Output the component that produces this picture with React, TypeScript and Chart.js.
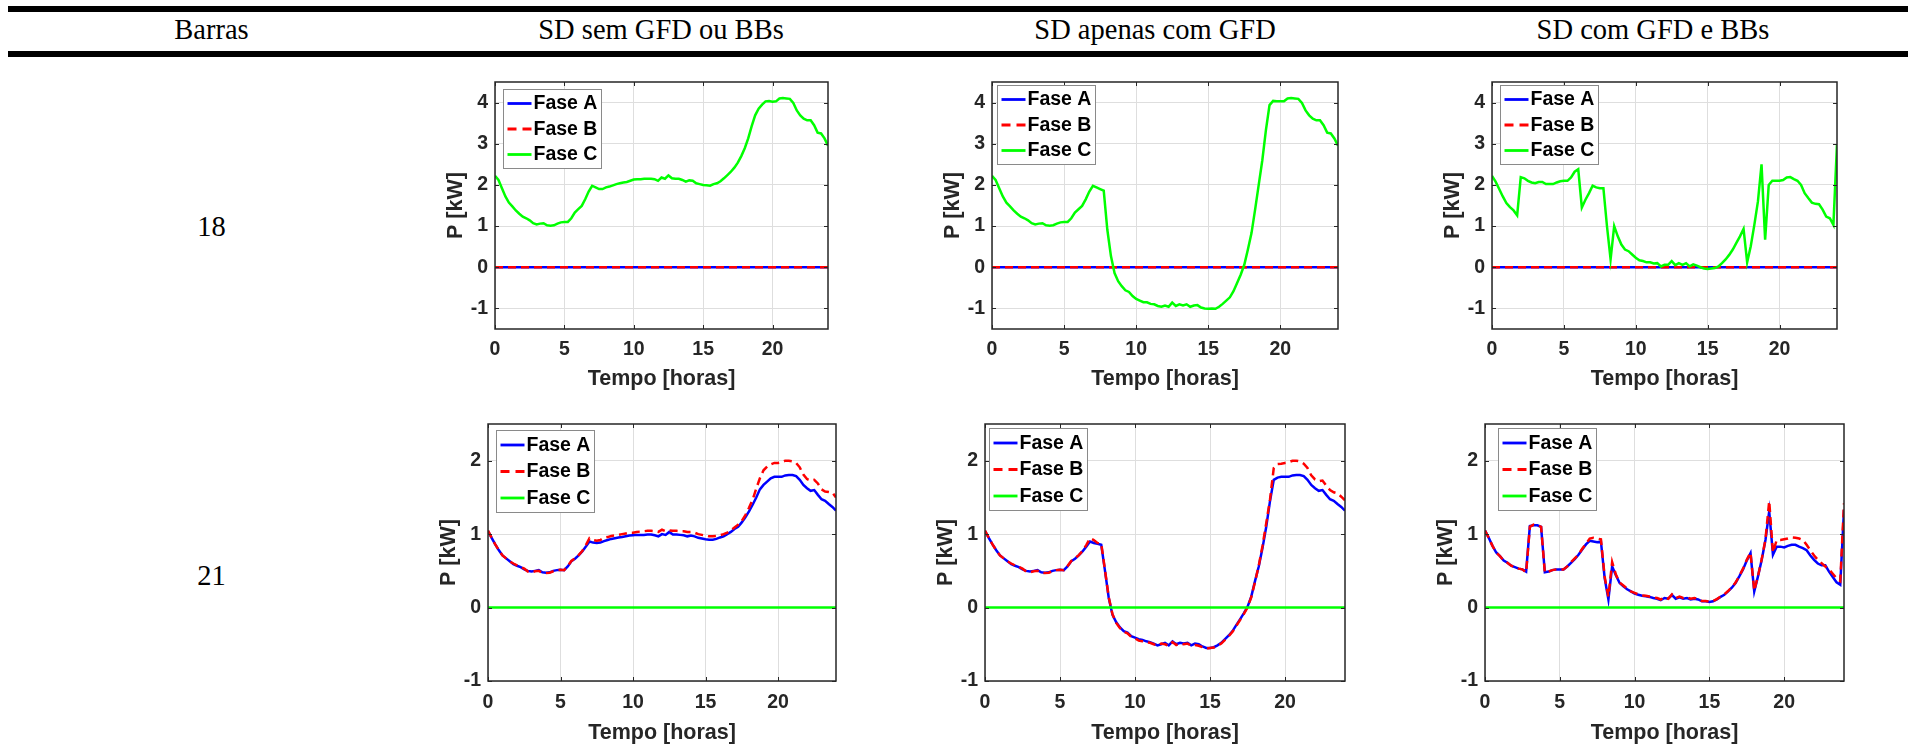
import React, { useEffect, useRef } from "react";
import { Chart, registerables } from "chart.js";

Chart.register(...registerables);

// ---------------- data ----------------
const horas = [
  0, 0.25, 0.5, 0.75,
  1, 1.25, 1.5, 1.75,
  2, 2.25, 2.5, 2.75,
  3, 3.25, 3.5, 3.75,
  4, 4.25, 4.5, 4.75,
  5, 5.25, 5.5, 5.75,
  6, 6.25, 6.5, 6.75,
  7, 7.25, 7.5, 7.75,
  8, 8.25, 8.5, 8.75,
  9, 9.25, 9.5, 9.75,
  10, 10.25, 10.5, 10.75,
  11, 11.25, 11.5, 11.75,
  12, 12.25, 12.5, 12.75,
  13, 13.25, 13.5, 13.75,
  14, 14.25, 14.5, 14.75,
  15, 15.25, 15.5, 15.75,
  16, 16.25, 16.5, 16.75,
  17, 17.25, 17.5, 17.75,
  18, 18.25, 18.5, 18.75,
  19, 19.25, 19.5, 19.75,
  20, 20.25, 20.5, 20.75,
  21, 21.25, 21.5, 21.75,
  22, 22.25, 22.5, 22.75,
  23, 23.25, 23.5, 23.75,
  24,
];

const faseNula = [
  0, 0, 0, 0, 0, 0, 0, 0, 0, 0, 0, 0, 0, 0, 0, 0,
  0, 0, 0, 0, 0, 0, 0, 0, 0, 0, 0, 0, 0, 0, 0, 0,
  0, 0, 0, 0, 0, 0, 0, 0, 0, 0, 0, 0, 0, 0, 0, 0,
  0, 0, 0, 0, 0, 0, 0, 0, 0, 0, 0, 0, 0, 0, 0, 0,
  0, 0, 0, 0, 0, 0, 0, 0, 0, 0, 0, 0, 0, 0, 0, 0,
  0, 0, 0, 0, 0, 0, 0, 0, 0, 0, 0, 0, 0, 0, 0, 0,
  0,
];

// Barra 18 - Fase C
const barra18SemGfdC = [
  2.22, 2.12, 1.92, 1.72,
  1.57, 1.48, 1.38, 1.30,
  1.23, 1.19, 1.14, 1.07,
  1.04, 1.06, 1.07, 1.02,
  1.01, 1.02, 1.06, 1.09,
  1.10, 1.10, 1.19, 1.33,
  1.41, 1.49, 1.65, 1.84,
  1.98, 1.94, 1.90, 1.90,
  1.94, 1.96, 1.99, 2.02,
  2.04, 2.06, 2.07, 2.10,
  2.13, 2.14, 2.14, 2.15,
  2.15, 2.15, 2.14, 2.10,
  2.18, 2.15, 2.23, 2.16,
  2.15, 2.15, 2.12, 2.08,
  2.11, 2.10, 2.04, 2.02,
  2.00, 1.99, 1.98, 2.02,
  2.04, 2.09, 2.16, 2.24,
  2.32, 2.42, 2.54, 2.70,
  2.89, 3.13, 3.43, 3.69,
  3.85, 3.95, 4.03, 4.04,
  4.02, 4.03, 4.10, 4.11,
  4.10, 4.09, 3.99, 3.81,
  3.69, 3.61, 3.57, 3.57,
  3.45, 3.27, 3.25, 3.13,
  2.95,
];

const barra18ApenasGfdC = [
  2.22, 2.12, 1.92, 1.72,
  1.57, 1.48, 1.38, 1.30,
  1.23, 1.19, 1.14, 1.07,
  1.04, 1.06, 1.07, 1.02,
  1.01, 1.02, 1.06, 1.09,
  1.10, 1.10, 1.19, 1.33,
  1.41, 1.49, 1.65, 1.84,
  1.98, 1.94, 1.90, 1.86,
  0.91, 0.27, -0.14, -0.34,
  -0.46, -0.56, -0.60, -0.70,
  -0.77, -0.81, -0.85, -0.85,
  -0.89, -0.90, -0.94, -0.96,
  -0.93, -0.96, -0.86, -0.94,
  -0.90, -0.93, -0.90, -0.96,
  -0.93, -0.92, -0.98, -1.00,
  -1.01, -1.00, -1.01, -0.96,
  -0.89, -0.81, -0.73, -0.58,
  -0.38, -0.18, 0.06, 0.43,
  0.83, 1.40, 2.00, 2.60,
  3.33, 3.94, 4.04, 4.03,
  4.03, 4.03, 4.10, 4.11,
  4.10, 4.09, 3.99, 3.81,
  3.69, 3.61, 3.57, 3.57,
  3.45, 3.27, 3.25, 3.13,
  2.95,
];

const barra18GfdBbC = [
  2.22, 2.08, 1.90, 1.72,
  1.56, 1.46, 1.38, 1.26,
  2.19, 2.16, 2.10, 2.06,
  2.04, 2.07, 2.07, 2.02,
  2.02, 2.02, 2.06, 2.09,
  2.10, 2.10, 2.18, 2.32,
  2.38, 1.45, 1.64, 1.80,
  1.98, 1.94, 1.92, 1.92,
  0.99, 0.19, 1.00, 0.75,
  0.55, 0.43, 0.39, 0.31,
  0.23, 0.17, 0.15, 0.12,
  0.12, 0.09, 0.10, 0.02,
  0.06, 0.06, 0.15, 0.05,
  0.10, 0.06, 0.10, 0.02,
  0.07, 0.04, 0.00, -0.03,
  -0.04, -0.03, -0.02, 0.02,
  0.10, 0.19, 0.30, 0.43,
  0.59, 0.75, 0.93, 0.12,
  0.51, 1.03, 1.60, 2.50,
  0.67, 2.00, 2.10, 2.10,
  2.10, 2.12, 2.18, 2.19,
  2.14, 2.10, 2.00, 1.80,
  1.68, 1.57, 1.54, 1.53,
  1.40, 1.23, 1.19, 1.03,
  2.99,
];

// Barra 21 - Fases A e B
const barra21SemGfdA = [
  1.04, 0.95, 0.86, 0.78,
  0.71, 0.67, 0.63, 0.59,
  0.57, 0.55, 0.52, 0.50,
  0.49, 0.50, 0.51, 0.48,
  0.475, 0.48, 0.50, 0.51,
  0.515, 0.51, 0.56, 0.63,
  0.665, 0.71, 0.765, 0.83,
  0.90, 0.885, 0.88, 0.885,
  0.905, 0.92, 0.935, 0.945,
  0.955, 0.96, 0.97, 0.98,
  0.985, 0.99, 0.99, 0.99,
  0.995, 0.995, 0.985, 0.97,
  1.00, 0.99, 1.03, 0.995,
  0.995, 0.99, 0.985, 0.97,
  0.98, 0.97, 0.95, 0.94,
  0.93, 0.925, 0.925, 0.935,
  0.955, 0.97, 1.00, 1.03,
  1.07, 1.10, 1.16, 1.23,
  1.31, 1.40, 1.50, 1.61,
  1.67, 1.715, 1.76, 1.78,
  1.78, 1.78, 1.80, 1.805,
  1.805, 1.79, 1.74, 1.67,
  1.625, 1.59, 1.60, 1.535,
  1.475, 1.455, 1.41, 1.37,
  1.32,
];

const barra21SemGfdB = [
  1.05, 0.95, 0.86, 0.78,
  0.71, 0.67, 0.63, 0.60,
  0.575, 0.555, 0.53, 0.49,
  0.48, 0.495, 0.50, 0.475,
  0.47, 0.475, 0.495, 0.51,
  0.515, 0.51, 0.565, 0.635,
  0.67, 0.715, 0.77, 0.85,
  0.945, 0.92, 0.91, 0.92,
  0.95, 0.96, 0.975, 0.985,
  0.99, 1.00, 1.01, 1.02,
  1.02, 1.03, 1.035, 1.04,
  1.045, 1.045, 1.04, 1.03,
  1.06, 1.04, 1.05, 1.045,
  1.045, 1.04, 1.04, 1.03,
  1.03, 1.02, 1.00, 0.99,
  0.98, 0.97, 0.97, 0.975,
  0.985, 1.00, 1.02, 1.05,
  1.09, 1.13, 1.18, 1.26,
  1.36, 1.47, 1.62, 1.76,
  1.87, 1.92, 1.95, 1.97,
  1.97, 1.98, 2.00, 2.00,
  1.99, 1.97, 1.91, 1.81,
  1.75, 1.73, 1.74, 1.69,
  1.61, 1.58, 1.575, 1.565,
  1.50,
];

const barra21ApenasGfdA = [
  1.04, 0.95, 0.86, 0.78,
  0.71, 0.67, 0.63, 0.59,
  0.57, 0.55, 0.52, 0.50,
  0.49, 0.50, 0.51, 0.48,
  0.475, 0.48, 0.50, 0.51,
  0.515, 0.51, 0.56, 0.63,
  0.665, 0.71, 0.765, 0.83,
  0.90, 0.88, 0.87, 0.855,
  0.50, 0.13, -0.10, -0.20,
  -0.27, -0.32, -0.34, -0.39,
  -0.41, -0.43, -0.44, -0.46,
  -0.47, -0.49, -0.515, -0.50,
  -0.48, -0.515, -0.46, -0.50,
  -0.48, -0.49, -0.48, -0.515,
  -0.49, -0.50, -0.53, -0.55,
  -0.55, -0.54, -0.515, -0.48,
  -0.43, -0.38, -0.32, -0.24,
  -0.16, -0.08, 0.01, 0.15,
  0.36, 0.56, 0.81, 1.10,
  1.45, 1.74, 1.77, 1.78,
  1.78, 1.78, 1.80, 1.805,
  1.805, 1.79, 1.74, 1.67,
  1.625, 1.59, 1.60, 1.535,
  1.475, 1.455, 1.41, 1.37,
  1.32,
];

const barra21ApenasGfdB = [
  1.05, 0.95, 0.86, 0.78,
  0.71, 0.67, 0.63, 0.60,
  0.575, 0.555, 0.53, 0.49,
  0.48, 0.495, 0.50, 0.475,
  0.47, 0.475, 0.495, 0.51,
  0.515, 0.51, 0.565, 0.635,
  0.67, 0.715, 0.77, 0.85,
  0.945, 0.92, 0.88, 0.87,
  0.51, 0.14, -0.09, -0.21,
  -0.28, -0.33, -0.35, -0.40,
  -0.42, -0.45, -0.46, -0.47,
  -0.48, -0.50, -0.52, -0.49,
  -0.50, -0.52, -0.47, -0.51,
  -0.49, -0.50, -0.49, -0.52,
  -0.51, -0.52, -0.54, -0.56,
  -0.55, -0.545, -0.52, -0.49,
  -0.44, -0.39, -0.33, -0.25,
  -0.17, -0.09, 0.00, 0.14,
  0.35, 0.57, 0.84, 1.15,
  1.47, 1.90, 1.955, 1.96,
  1.97, 1.98, 2.00, 2.00,
  1.99, 1.96, 1.90, 1.80,
  1.745, 1.72, 1.73, 1.66,
  1.60, 1.57, 1.555, 1.51,
  1.46,
];

const barra21GfdBbA = [
  1.05, 0.95, 0.84, 0.75,
  0.70, 0.64, 0.61, 0.57,
  0.55, 0.53, 0.52, 0.49,
  1.11, 1.12, 1.12, 1.10,
  0.48, 0.49, 0.51, 0.52,
  0.52, 0.52, 0.56, 0.61,
  0.66, 0.72, 0.79, 0.86,
  0.91, 0.90, 0.89, 0.90,
  0.40, 0.11, 0.56, 0.44,
  0.335, 0.29, 0.25, 0.22,
  0.19, 0.175, 0.16, 0.155,
  0.145, 0.13, 0.12, 0.10,
  0.13, 0.12, 0.17, 0.12,
  0.14, 0.12, 0.13, 0.11,
  0.12, 0.11, 0.085, 0.085,
  0.075, 0.085, 0.11, 0.145,
  0.175, 0.22, 0.27, 0.335,
  0.425, 0.52, 0.64, 0.74,
  0.22, 0.425, 0.65, 0.92,
  1.31, 0.72, 0.83, 0.83,
  0.82, 0.84, 0.855, 0.855,
  0.83, 0.81, 0.78, 0.71,
  0.65, 0.60, 0.575, 0.575,
  0.49, 0.415, 0.345, 0.31,
  1.33,
];

const barra21GfdBbB = [
  1.05, 0.95, 0.84, 0.75,
  0.70, 0.64, 0.61, 0.57,
  0.55, 0.53, 0.52, 0.48,
  1.10, 1.13, 1.12, 1.10,
  0.48, 0.49, 0.51, 0.52,
  0.52, 0.52, 0.56, 0.62,
  0.67, 0.72, 0.80, 0.87,
  0.94, 0.95, 0.94, 0.93,
  0.42, 0.15, 0.62, 0.45,
  0.34, 0.30, 0.26, 0.22,
  0.20, 0.18, 0.165, 0.16,
  0.15, 0.14, 0.13, 0.11,
  0.14, 0.12, 0.18, 0.13,
  0.15, 0.13, 0.14, 0.12,
  0.13, 0.12, 0.09, 0.09,
  0.08, 0.09, 0.115, 0.15,
  0.18, 0.225, 0.275, 0.34,
  0.43, 0.53, 0.65, 0.75,
  0.23, 0.43, 0.66, 0.93,
  1.45, 0.75, 0.92, 0.92,
  0.93, 0.94, 0.955, 0.95,
  0.94, 0.92, 0.855, 0.78,
  0.71, 0.65, 0.605, 0.56,
  0.52, 0.46, 0.40, 0.36,
  1.42,
];

const xTicks = [0, 5, 10, 15, 20];
const yTicksBarra18 = [-1, 0, 1, 2, 3, 4];
const yTicksBarra21 = [-1, 0, 1, 2];
const fases = ["Fase A", "Fase B", "Fase C"];
const cabecalho = ["Barras", "SD sem GFD ou BBs", "SD apenas com GFD", "SD com GFD e BBs"];
const barras = ["18", "21"];

// ---------------- styles / layout ----------------
const SANS = '"Liberation Sans", Arial, Helvetica, sans-serif';
const SERIF = '"Liberation Serif", "Times New Roman", Times, serif';
const AXIS_COLOR = "#262626";
const GRID_COLOR = "#dedede";
const CORES = ["#0000ff", "#ff0000", "#00ff00"];
const PAD_L = 75;
const PAD_T = 24;
const PAD_R = 12;
const TICK_FONT = 19.5;
const TITLE_FONT = 21.5;
const LEGEND_FONT = 19.5;

const colCentros = [211.5, 661, 1155, 1653];
const linhaTopo = [212.5, 562];

type PainelCfg = {
  left: number;
  top: number;
  width: number;
  height: number;
  padB: number;
  series: number[][];
  yMin: number;
  yMax: number;
  yTicks: number[];
  legDx: number;
  legDy: number;
  legH: number;
  legRow: number;
  xTickGap: number;
  xTitleGap: number;
};

const linha1 = { top: 82, height: 247, padB: 80, yMin: -1.5, yMax: 4.5, yTicks: yTicksBarra18, legH: 79, legRow: 25.5, xTickGap: 21, xTitleGap: 50 };
const linha2 = { top: 424, height: 257, padB: 66, yMin: -1, yMax: 2.5, yTicks: yTicksBarra21, legH: 82, legRow: 26.5, xTickGap: 22, xTitleGap: 52 };

const PAINEIS: PainelCfg[] = [
  { ...linha1, left: 495, width: 333, series: [faseNula, faseNula, barra18SemGfdC], legDx: 8, legDy: 7 },
  { ...linha1, left: 992, width: 346, series: [faseNula, faseNula, barra18ApenasGfdC], legDx: 5, legDy: 3 },
  { ...linha1, left: 1492, width: 345, series: [faseNula, faseNula, barra18GfdBbC], legDx: 8, legDy: 3 },
  { ...linha2, left: 488, width: 348, series: [barra21SemGfdA, barra21SemGfdB, faseNula], legDx: 8, legDy: 6 },
  { ...linha2, left: 985, width: 360, series: [barra21ApenasGfdA, barra21ApenasGfdB, faseNula], legDx: 4, legDy: 4 },
  { ...linha2, left: 1485, width: 359, series: [barra21GfdBbA, barra21GfdBbB, faseNula], legDx: 13, legDy: 4 },
];

function Painel({ p }: { p: PainelCfg }) {
  const ref = useRef<HTMLCanvasElement | null>(null);
  const cw = p.width + PAD_L + PAD_R;
  const ch = p.height + PAD_T + p.padB;

  useEffect(() => {
    const canvas = ref.current;
    if (!canvas) return;

    const datasets = p.series.map((vals, i) => ({
      label: fases[i],
      data: horas.map((h, k) => ({ x: h, y: vals[k] })),
      borderColor: CORES[i],
      backgroundColor: CORES[i],
      borderWidth: 2.5,
      borderDash: i === 1 ? [8, 5] : [],
      pointRadius: 0,
      fill: false,
      tension: 0,
      order: 3 - i,
    }));

    const moldura = {
      id: "moldura",
      afterDatasetsDraw(chart: any) {
        const { ctx, chartArea: a, scales } = chart;
        ctx.save();
        ctx.strokeStyle = AXIS_COLOR;
        ctx.lineWidth = 1;
        ctx.setLineDash([]);
        ctx.beginPath();
        for (const v of xTicks) {
          const px = Math.round(scales.x.getPixelForValue(v)) + 0.5;
          ctx.moveTo(px, a.bottom);
          ctx.lineTo(px, a.bottom - 4);
          ctx.moveTo(px, a.top);
          ctx.lineTo(px, a.top + 4);
        }
        for (const v of p.yTicks) {
          const py = Math.round(scales.y.getPixelForValue(v)) + 0.5;
          ctx.moveTo(a.left, py);
          ctx.lineTo(a.left + 4, py);
          ctx.moveTo(a.right, py);
          ctx.lineTo(a.right - 4, py);
        }
        ctx.stroke();
        ctx.lineWidth = 1.5;
        ctx.strokeRect(a.left, a.top, a.right - a.left, a.bottom - a.top);
        ctx.restore();
      },
    };

    const legenda = {
      id: "legenda",
      afterDraw(chart: any) {
        const { ctx, chartArea: a } = chart;
        const bx = Math.round(a.left + p.legDx) + 0.5;
        const by = Math.round(a.top + p.legDy) + 0.5;
        const bw = 98;
        const bh = p.legH;
        ctx.save();
        ctx.fillStyle = "#ffffff";
        ctx.fillRect(bx, by, bw, bh);
        ctx.strokeStyle = "#8a8a8a";
        ctx.lineWidth = 1;
        ctx.setLineDash([]);
        ctx.strokeRect(bx, by, bw, bh);
        const top0 = (bh - 2 * p.legRow) / 2;
        chart.data.datasets.forEach((ds: any, i: number) => {
          const cy = by + top0 + i * p.legRow;
          ctx.beginPath();
          ctx.strokeStyle = ds.borderColor;
          ctx.lineWidth = 2.8;
          ctx.setLineDash(i === 1 ? [9, 6] : []);
          ctx.moveTo(bx + 4, cy);
          ctx.lineTo(bx + 28, cy);
          ctx.stroke();
          ctx.setLineDash([]);
          ctx.fillStyle = "#000000";
          ctx.font = `bold ${LEGEND_FONT}px ${SANS}`;
          ctx.textBaseline = "middle";
          ctx.textAlign = "left";
          ctx.fillText(ds.label, bx + 30, cy + 0.5);
        });
        ctx.restore();
      },
    };

    const chart = new Chart(canvas, {
      type: "line",
      data: { datasets: datasets as any },
      options: {
        animation: false,
        responsive: false,
        maintainAspectRatio: false,
        layout: { padding: { left: 0, top: PAD_T, right: PAD_R, bottom: 0 } },
        plugins: { legend: { display: false }, tooltip: { enabled: false } },
        elements: { point: { radius: 0 } },
        scales: {
          x: {
            type: "linear",
            min: 0,
            max: 24,
            afterFit: (s: any) => {
              s.height = p.padB;
            },
            afterBuildTicks: (s: any) => {
              s.ticks = xTicks.map((v) => ({ value: v }));
            },
            grid: { color: GRID_COLOR, drawTicks: false, lineWidth: 1 },
            border: { display: false },
            ticks: {
              color: AXIS_COLOR,
              font: { family: SANS, size: TICK_FONT, weight: "bold" },
              padding: p.xTickGap - (TICK_FONT * 1.2) / 2,
              maxRotation: 0,
              autoSkip: false,
            },
            title: {
              display: true,
              text: "Tempo [horas]",
              color: AXIS_COLOR,
              font: { family: SANS, size: TITLE_FONT, weight: "bold" },
              padding: { top: 0, bottom: p.padB - p.xTitleGap - (TITLE_FONT * 1.2) / 2 },
            },
          },
          y: {
            type: "linear",
            min: p.yMin,
            max: p.yMax,
            afterFit: (s: any) => {
              s.width = PAD_L;
            },
            afterBuildTicks: (s: any) => {
              s.ticks = p.yTicks.map((v) => ({ value: v }));
            },
            grid: { color: GRID_COLOR, drawTicks: false, lineWidth: 1 },
            border: { display: false },
            ticks: {
              color: AXIS_COLOR,
              font: { family: SANS, size: TICK_FONT, weight: "bold" },
              padding: 7,
              autoSkip: false,
            },
            title: {
              display: true,
              text: "P [kW]",
              color: AXIS_COLOR,
              font: { family: SANS, size: TITLE_FONT, weight: "bold" },
              padding: { top: PAD_L - 39 - (TITLE_FONT * 1.2) / 2, bottom: 0 },
            },
          },
        },
      } as any,
      plugins: [moldura, legenda],
    });

    return () => chart.destroy();
  }, [p]);

  return (
    <canvas
      ref={ref}
      width={cw}
      height={ch}
      style={{
        position: "absolute",
        left: p.left - PAD_L,
        top: p.top - PAD_T,
        width: cw,
        height: ch,
      }}
    />
  );
}

export default function App() {
  return (
    <div
      style={{
        position: "absolute",
        left: 0,
        top: 0,
        width: 1908,
        height: 748,
        background: "#ffffff",
        overflow: "hidden",
      }}
    >
      <div style={{ position: "absolute", left: 8, top: 6, width: 1900, height: 6, background: "#000" }} />
      <div style={{ position: "absolute", left: 8, top: 51, width: 1900, height: 6, background: "#000" }} />
      {cabecalho.map((t, i) => (
        <div
          key={"h" + i}
          style={{
            position: "absolute",
            left: colCentros[i] - 200,
            width: 400,
            top: 16,
            textAlign: "center",
            fontFamily: SERIF,
            fontSize: 28.5,
            lineHeight: "28.5px",
            color: "#000",
            whiteSpace: "nowrap",
          }}
        >
          {t}
        </div>
      ))}
      {barras.map((t, i) => (
        <div
          key={"b" + i}
          style={{
            position: "absolute",
            left: colCentros[0] - 100,
            width: 200,
            top: linhaTopo[i],
            textAlign: "center",
            fontFamily: SERIF,
            fontSize: 28.5,
            lineHeight: "28.5px",
            color: "#000",
          }}
        >
          {t}
        </div>
      ))}
      {PAINEIS.map((p, i) => (
        <Painel key={i} p={p} />
      ))}
    </div>
  );
}
